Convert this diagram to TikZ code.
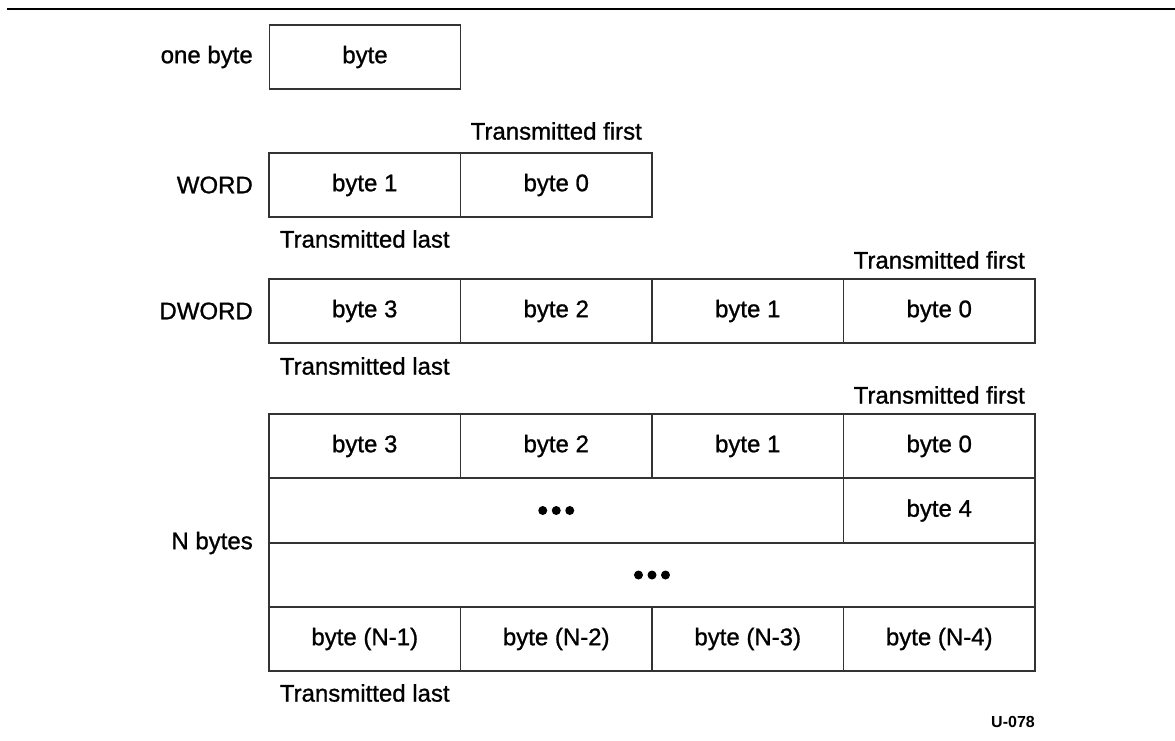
\documentclass[tikz,border=0pt]{standalone}
\usepackage{fontspec}
\setmainfont{Liberation Sans}
\newfontfamily\heavyfont{Liberation Sans}[FakeBold=1.0]
\begin{document}
\begin{tikzpicture}[x=1pt,y=-1pt,
  cell/.style={draw=black!80, line width=1.4pt, minimum width=191.5pt, minimum height=64pt,
    inner sep=0pt, font=\heavyfont\fontsize{24}{28}\selectfont},
  lbl/.style={inner sep=0pt, font=\heavyfont\fontsize{24}{28}\selectfont},
  rowlbl/.style={lbl, anchor=east},
  tag/.style={inner sep=0pt, font=\bfseries\fontsize{16}{19}\selectfont, anchor=east},
  dot/.style={fill=black}
]
\useasboundingbox (0,0) rectangle (1175,740);
% top rule
\coordinate (tl) at (7,9);
\coordinate (tr) at (1175,9);
\draw[line width=2pt] (tl) -- (tr);

% one byte
\node[cell] (ob) at (365,57) {byte};
\node[rowlbl] (obl) at (253,57) {one byte};

% WORD
\node[cell] (w1) at (364.75,185) {byte 1};
\node[cell] (w0) at (556.25,185) {byte 0};
\node[rowlbl] (wl) at (253,185) {WORD};
\node[lbl] (wf) at (556.25,131) {Transmitted first};
\node[lbl] (wla) at (364.75,239) {Transmitted last};

% DWORD
\node[cell] (d3) at (364.75,311) {byte 3};
\node[cell] (d2) at (556.25,311) {byte 2};
\node[cell] (d1) at (747.75,311) {byte 1};
\node[cell] (d0) at (939.25,311) {byte 0};
\node[rowlbl] (dl) at (253,311) {DWORD};
\node[lbl] (df) at (939.25,260) {Transmitted first};
\node[lbl] (dla) at (364.75,366) {Transmitted last};

% N bytes
\node[cell] (n3) at (364.75,446) {byte 3};
\node[cell] (n2) at (556.25,446) {byte 2};
\node[cell] (n1) at (747.75,446) {byte 1};
\node[cell] (n0) at (939.25,446) {byte 0};
\node[cell, minimum width=574.5pt] (nr2) at (556.25,510.5) {};
\node[cell] (n4) at (939.25,510.5) {byte 4};
\node[cell, minimum width=766pt] (nr3) at (652,575) {};
\node[cell] (nm1) at (364.75,639) {byte (N-1)};
\node[cell] (nm2) at (556.25,639) {byte (N-2)};
\node[cell] (nm3) at (747.75,639) {byte (N-3)};
\node[cell] (nm4) at (939.25,639) {byte (N-4)};
\node[rowlbl] (nl) at (253,543) {N bytes};
\node[lbl] (nf) at (939.25,395) {Transmitted first};
\node[lbl] (nla) at (364.75,693) {Transmitted last};

% ellipsis dots
\foreach \dx in {-13.5,0,13.5} {
  \fill[dot] ([xshift=\dx pt]nr2.center) circle (4.5pt);
  \fill[dot] ([xshift=\dx pt]nr3.center) circle (4.5pt);
}

\node[tag] (id) at (1035,722) {U-078};
\end{tikzpicture}
\end{document}
